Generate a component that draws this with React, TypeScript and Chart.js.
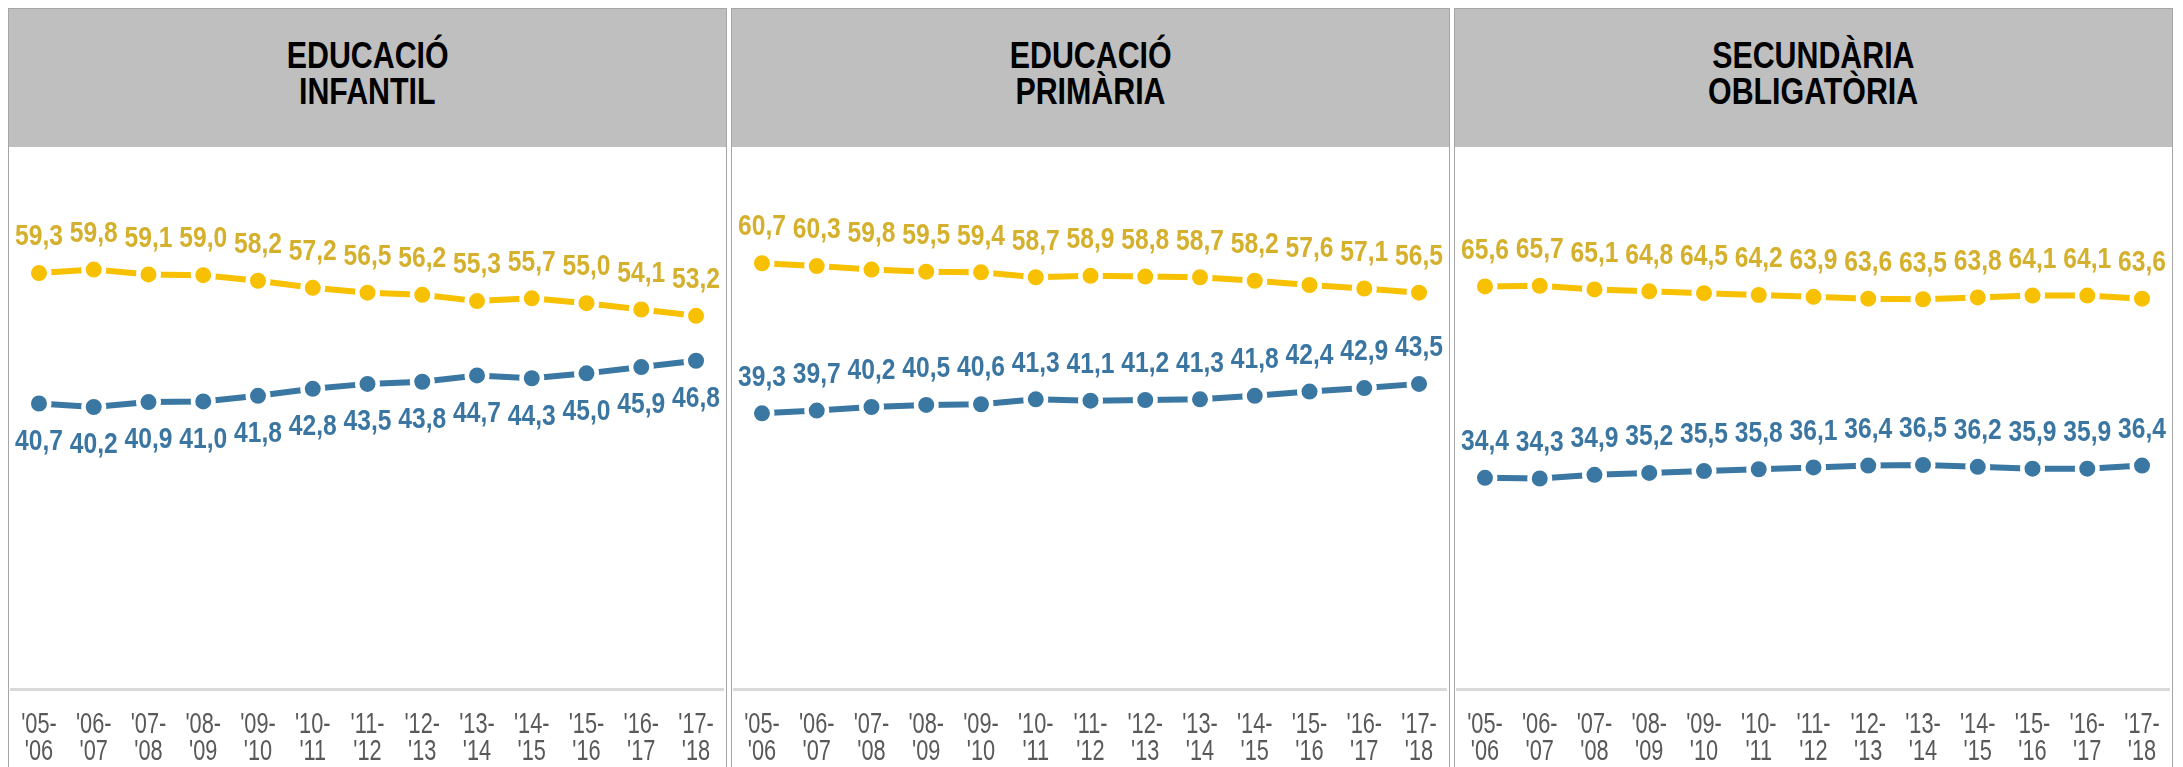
import React, { useEffect, useRef } from "react";
import { Chart, registerables } from "chart.js";

Chart.register(...registerables);

// ---- Data ----
const categories: string[][] = [
  ["'05-", "'06"], ["'06-", "'07"], ["'07-", "'08"], ["'08-", "'09"], ["'09-", "'10"],
  ["'10-", "'11"], ["'11-", "'12"], ["'12-", "'13"], ["'13-", "'14"], ["'14-", "'15"],
  ["'15-", "'16"], ["'16-", "'17"], ["'17-", "'18"],
];

const panelTitles: string[][] = [
  ["EDUCACIÓ", "INFANTIL"],
  ["EDUCACIÓ", "PRIMÀRIA"],
  ["SECUNDÀRIA", "OBLIGATÒRIA"],
];

const infantilYellow = [59.3, 59.8, 59.1, 59.0, 58.2, 57.2, 56.5, 56.2, 55.3, 55.7, 55.0, 54.1, 53.2];
const infantilBlue = [40.7, 40.2, 40.9, 41.0, 41.8, 42.8, 43.5, 43.8, 44.7, 44.3, 45.0, 45.9, 46.8];

const primariaYellow = [60.7, 60.3, 59.8, 59.5, 59.4, 58.7, 58.9, 58.8, 58.7, 58.2, 57.6, 57.1, 56.5];
const primariaBlue = [39.3, 39.7, 40.2, 40.5, 40.6, 41.3, 41.1, 41.2, 41.3, 41.8, 42.4, 42.9, 43.5];

const secundariaYellow = [65.6, 65.7, 65.1, 64.8, 64.5, 64.2, 63.9, 63.6, 63.5, 63.8, 64.1, 64.1, 63.6];
const secundariaBlue = [34.4, 34.3, 34.9, 35.2, 35.5, 35.8, 36.1, 36.4, 36.5, 36.2, 35.9, 35.9, 36.4];

const yMaxByPanel = [70, 70, 80];
const blueLabelBelow = [true, false, false];

// ---- Styles ----
const YELLOW = "#f7c000";
const YELLOW_LABEL = "#d5b02c";
const BLUE = "#3a77a2";
const BLUE_LABEL = "#3a76a1";
const TICK_COLOR = "#595959";
const FONT = "'Liberation Sans', Arial, sans-serif";

const PANEL_W = 719;
const HEADER_H = 138;
const CANVAS_H = 620;

// Value labels (condensed like the original)
const labelPlugin = {
  id: "valueLabels",
  afterDatasetsDraw(chart: any) {
    const ctx = chart.ctx;
    ctx.save();
    ctx.font = `bold 30px ${FONT}`;
    ctx.textAlign = "center";
    ctx.textBaseline = "middle";
    chart.data.datasets.forEach((ds: any, i: number) => {
      const meta = chart.getDatasetMeta(i);
      ctx.fillStyle = ds.labelColor;
      meta.data.forEach((pt: any, j: number) => {
        const v = ds.data[j] as number;
        const txt = v.toFixed(1).replace(".", ",");
        const y = ds.labelBelow ? pt.y + 38 : pt.y - 36;
        ctx.save();
        ctx.translate(pt.x, y);
        ctx.scale(0.82, 1);
        ctx.fillText(txt, 0, 0);
        ctx.restore();
      });
    });
    ctx.restore();
  },
};

// Category labels of the x scale, drawn condensed at the scale's tick pixels
const tickPlugin = {
  id: "condensedTicks",
  afterDraw(chart: any) {
    const ctx = chart.ctx;
    const xs = chart.scales.x;
    ctx.save();
    ctx.font = `29px ${FONT}`;
    ctx.fillStyle = TICK_COLOR;
    ctx.textAlign = "center";
    ctx.textBaseline = "middle";
    (chart.data.labels as string[][]).forEach((lab, i) => {
      const x = xs.getPixelForTick(i);
      lab.forEach((line, k) => {
        ctx.save();
        ctx.translate(x, xs.top + 36 + k * 27);
        ctx.scale(0.75, 1);
        ctx.fillText(line, 0, 0);
        ctx.restore();
      });
    });
    ctx.restore();
  },
};

function Panel(props: { idx: number; yellow: number[]; blue: number[] }) {
  const ref = useRef<HTMLCanvasElement>(null);
  const { idx, yellow, blue } = props;
  useEffect(() => {
    const mk = (data: number[], color: string, labelColor: string, below: boolean) => ({
      data,
      borderColor: color,
      backgroundColor: color,
      borderWidth: 6,
      pointRadius: 10.25,
      pointBorderWidth: 4.5,
      pointBorderColor: "#ffffff",
      pointBackgroundColor: color,
      pointHoverRadius: 10.25,
      tension: 0,
      labelColor,
      labelBelow: below,
      clip: false,
    });
    const chart = new Chart(ref.current as HTMLCanvasElement, {
      type: "line",
      data: {
        labels: categories,
        datasets: [
          mk(yellow, YELLOW, YELLOW_LABEL, false) as any,
          mk(blue, BLUE, BLUE_LABEL, blueLabelBelow[idx]) as any,
        ],
      },
      options: {
        animation: false,
        responsive: false,
        maintainAspectRatio: false,
        events: [],
        layout: { autoPadding: false, padding: { top: 51, left: 2.6, right: 2.6, bottom: 0 } },
        plugins: { legend: { display: false }, tooltip: { enabled: false } },
        scales: {
          x: {
            offset: true,
            grid: { display: false, drawTicks: false },
            border: { display: true, color: "#d9d9d9", width: 3 },
            ticks: {
              display: false,
              maxRotation: 0,
              minRotation: 0,
              autoSkip: false,
            },
            afterFit: (s: any) => {
              s.height = 78;
            },
          },
          y: { display: false, min: 0, max: yMaxByPanel[idx] },
        },
      },
      plugins: [labelPlugin, tickPlugin],
    });
    return () => chart.destroy();
  }, []);

  return (
    <div
      style={{
        width: PANEL_W,
        height: 1 + HEADER_H + CANVAS_H + 1,
        boxSizing: "border-box",
        border: "1px solid #a6a6a6",
        background: "#ffffff",
        flex: "0 0 auto",
      }}
    >
      <div
        style={{
          height: HEADER_H,
          background: "#bfbfbf",
          boxSizing: "border-box",
          paddingTop: 29,
          textAlign: "center",
          fontFamily: FONT,
          fontWeight: "bold",
          fontSize: 37,
          lineHeight: "36px",
          color: "#000000",
        }}
      >
        {panelTitles[idx].map((t, k) => (
          <div key={k}>
            <span style={{ display: "inline-block", transform: "scaleX(0.82)" }}>{t}</span>
          </div>
        ))}
      </div>
      <canvas
        ref={ref}
        width={PANEL_W - 2}
        height={CANVAS_H}
        style={{ display: "block", width: PANEL_W - 2, height: CANVAS_H }}
      />
    </div>
  );
}

export default function App() {
  return (
    <>
      <style>{`html,body{overflow:hidden;}`}</style>
      <div style={{ display: "flex", gap: 4 }}>
        <Panel idx={0} yellow={infantilYellow} blue={infantilBlue} />
        <Panel idx={1} yellow={primariaYellow} blue={primariaBlue} />
        <Panel idx={2} yellow={secundariaYellow} blue={secundariaBlue} />
      </div>
    </>
  );
}
